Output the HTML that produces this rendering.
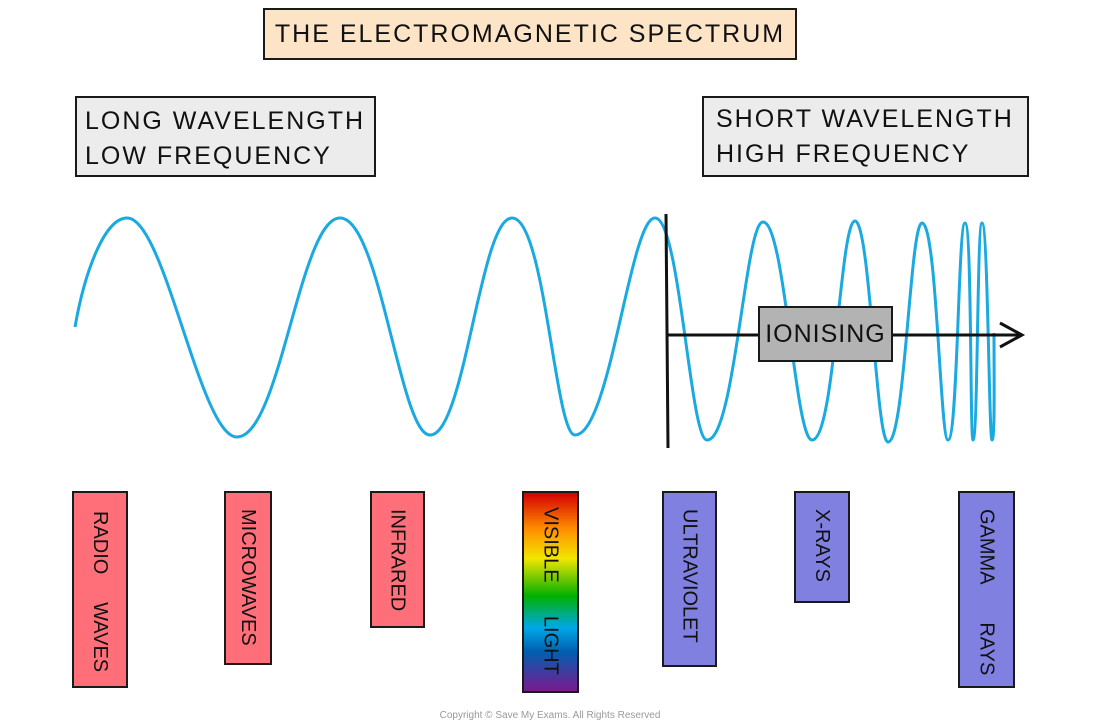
<!DOCTYPE html>
<html><head><style>
body{margin:0;width:1100px;height:727px;background:#fff;position:relative;overflow:hidden;font-family:"Liberation Sans",sans-serif}
.b{position:absolute;border:2px solid #1a1a1a;box-sizing:border-box}
.t{font-size:25px;letter-spacing:2px;color:#111}
.v span{position:absolute;left:50%;top:16px;transform:translateX(-50%);writing-mode:vertical-rl;font-size:20px;white-space:pre;color:#111;line-height:24px}
.r{background:#ff6f7a}.u{background:#7f80e0}
</style></head><body>
<svg width="1100" height="727" style="position:absolute;left:0;top:0">
<path d="M75,327 C85,270 105,218 127,218 C165,218 200,437 237,437 C280,437 300,218 340,218 C380,218 400,435 430,435 C465,435 480,218 512,218 C545,218 555,435 575,435 C610,435 630,218 655,218 C680,218 690,440 707,440 C735,440 745,222 763,222 C785,222 795,440 812,440 C835,440 840,221 855,221 C870,221 876,442 888,442 C905,442 910,223 922,223 C937,223 940,440 948,440 C958,440 958,223 965,223 C972,223 970,440 973,440 C978,440 977,223 982,223 C988,223 989,440 992,440 C995,440 994,380 994,333" fill="none" stroke="#1aa9e0" stroke-width="3"/>
<line x1="666" y1="214" x2="668" y2="448" stroke="#111" stroke-width="3"/>
<line x1="668" y1="335" x2="1020" y2="335" stroke="#111" stroke-width="3"/>
<polyline points="1000,323 1022,335 1000,347" fill="none" stroke="#111" stroke-width="3"/>
</svg>
<div class="b t" style="left:263px;top:8px;width:534px;height:52px;background:#fde4c6;display:flex;align-items:center;justify-content:center">THE ELECTROMAGNETIC SPECTRUM</div>
<div class="b t" style="left:75px;top:96px;width:301px;height:81px;background:#ececec;padding:6px 8px;line-height:35px">LONG WAVELENGTH<br>LOW FREQUENCY</div>
<div class="b t" style="left:702px;top:96px;width:327px;height:81px;background:#ececec;padding:4px 12px;line-height:35px">SHORT WAVELENGTH<br>HIGH FREQUENCY</div>
<div class="b t" style="left:758px;top:306px;width:135px;height:56px;background:#b3b3b3;display:flex;align-items:center;justify-content:center;letter-spacing:1px">IONISING</div>
<div class="b v r" style="left:72px;top:491px;width:56px;height:197px"><span style="top:18px">RADIO     WAVES</span></div>
<div class="b v r" style="left:224px;top:491px;width:48px;height:174px"><span>MICROWAVES</span></div>
<div class="b v r" style="left:370px;top:491px;width:55px;height:137px"><span>INFRARED</span></div>
<div class="b v" style="left:522px;top:491px;width:57px;height:202px;background:linear-gradient(#d40000,#ff8c00 18%,#f3e600 33%,#00b000 52%,#00a8e8 68%,#0060b0 80%,#7a1a90)"><span style="top:14px">VISIBLE      LIGHT</span></div>
<div class="b v u" style="left:662px;top:491px;width:55px;height:176px"><span>ULTRAVIOLET</span></div>
<div class="b v u" style="left:794px;top:491px;width:56px;height:112px"><span>X-RAYS</span></div>
<div class="b v u" style="left:958px;top:491px;width:57px;height:197px"><span>GAMMA       RAYS</span></div>
<div style="position:absolute;left:0;width:1100px;top:710px;text-align:center;font-size:10px;color:#999">Copyright © Save My Exams. All Rights Reserved</div>
</body></html>
